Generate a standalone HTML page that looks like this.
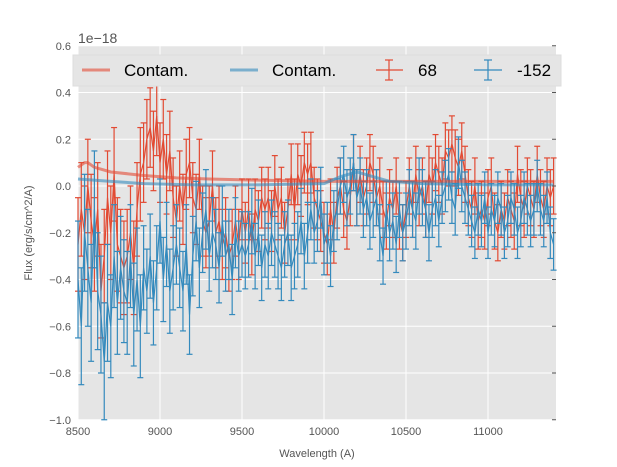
<!DOCTYPE html>
<html><head><meta charset="utf-8"><style>
body{margin:0;background:#fff;font-family:"Liberation Sans",sans-serif}
svg{display:block}
</style></head><body>
<svg id="chart" width="617" height="467">
<rect x="78" y="46" width="478" height="374" fill="#e5e5e5"/>
<g id="grid"></g>
<g id="series"></g>
<g id="axes"></g>
<text x="78" y="43" font-size="14" fill="#555">1e−18</text>
<text x="317" y="457" font-size="11" fill="#555" text-anchor="middle">Wavelength (A)</text>
<text transform="translate(32,233) rotate(-90)" font-size="11" fill="#555" text-anchor="middle">Flux (erg/s/cm^2/A)</text>
<g>
<rect x="73" y="55" width="488" height="31" fill="#e5e5e5" stroke="#ddd"/>
<line x1="82" y1="70" x2="110" y2="70" stroke="#E24A33" stroke-opacity="0.6" stroke-width="3"/>
<text x="124" y="76" font-size="17" fill="#000">Contam.</text>
<line x1="230" y1="70" x2="258" y2="70" stroke="#348ABD" stroke-opacity="0.6" stroke-width="3"/>
<text x="272" y="76" font-size="17" fill="#000">Contam.</text>
<g stroke="#E24A33" stroke-width="1.2"><line x1="376" y1="70" x2="403" y2="70"/><line x1="389" y1="60" x2="389" y2="80"/><line x1="385" y1="60" x2="393" y2="60"/><line x1="385" y1="80" x2="393" y2="80"/></g>
<text x="418" y="76" font-size="17" fill="#000">68</text>
<g stroke="#348ABD" stroke-width="1.2"><line x1="474" y1="70" x2="502" y2="70"/><line x1="488" y1="60" x2="488" y2="80"/><line x1="484" y1="60" x2="492" y2="60"/><line x1="484" y1="80" x2="492" y2="80"/></g>
<text x="517" y="76" font-size="17" fill="#000">-152</text>
</g>
</svg>
<script>
const xTicks=[8500,9000,9500,10000,10500,11000];
const yTicks=[0.6,0.4,0.2,0.0,-0.2,-0.4,-0.6,-0.8,-1.0];
const yTickLabels=["0.6","0.4","0.2","0.0","−0.2","−0.4","−0.6","−0.8","−1.0"];
const waveStart=8500, waveStep=20;
const fluxRed=[-0.25,-0.1,-0.2,0.0,-0.15,-0.25,-0.1,-0.45,-0.3,-0.05,-0.2,0.05,-0.25,-0.3,-0.35,-0.3,-0.2,-0.35,-0.1,0.05,0.1,0.2,0.25,0.15,0.3,0.1,0.2,0.05,0.15,-0.05,-0.15,0.0,-0.1,0.05,0.1,-0.05,-0.1,0.05,-0.15,-0.2,-0.15,0.0,-0.2,-0.15,-0.25,-0.2,-0.3,-0.25,-0.15,-0.25,-0.1,-0.2,-0.1,-0.25,-0.1,-0.15,-0.05,-0.1,-0.05,-0.15,0.0,-0.1,-0.05,-0.2,-0.1,0.05,-0.1,0.05,0.0,0.1,0.05,0.1,-0.05,-0.1,-0.15,-0.2,-0.25,-0.1,-0.2,-0.05,0.0,-0.1,-0.15,-0.05,0.1,-0.05,0.05,-0.05,0.0,0.1,0.05,-0.05,0.0,-0.1,-0.15,-0.05,-0.1,0.0,-0.15,-0.2,-0.1,0.0,-0.1,0.05,-0.05,0.0,-0.1,0.05,0.0,0.1,0.05,0.0,0.15,0.12,0.18,0.12,0.08,0.15,0.05,-0.05,-0.1,0.0,-0.15,-0.1,-0.15,-0.05,0.0,-0.15,-0.2,-0.1,-0.15,-0.05,-0.1,-0.15,0.05,-0.05,-0.1,0.0,-0.05,-0.1,0.05,-0.05,-0.1,0.0,-0.05,0.0];
const fluxBlue=[-0.4,-0.6,-0.2,-0.35,-0.5,-0.1,-0.45,-0.55,-0.75,-0.5,-0.6,-0.3,-0.5,-0.35,-0.45,-0.5,-0.3,-0.55,-0.4,-0.6,-0.35,-0.45,-0.3,-0.5,-0.35,-0.15,-0.4,-0.25,-0.45,-0.35,-0.25,-0.35,-0.45,-0.25,-0.55,-0.3,-0.15,-0.35,-0.2,-0.1,-0.3,-0.2,-0.25,-0.35,-0.15,-0.3,-0.25,-0.4,-0.2,-0.3,-0.25,-0.3,-0.25,-0.15,-0.3,-0.2,-0.35,-0.25,-0.3,-0.2,-0.25,-0.3,-0.35,-0.25,-0.2,-0.35,-0.3,-0.25,-0.15,-0.3,-0.2,-0.1,-0.2,-0.15,-0.05,-0.25,-0.2,-0.3,-0.15,-0.1,0.0,0.05,-0.05,0.0,0.1,-0.05,0.0,-0.1,-0.05,-0.15,-0.1,-0.05,-0.2,-0.3,-0.1,-0.2,-0.15,-0.25,-0.1,-0.2,-0.15,-0.05,-0.1,-0.15,0.0,-0.05,-0.1,-0.2,-0.1,-0.05,-0.15,-0.05,0.0,0.05,-0.05,-0.1,0.1,0.0,-0.05,-0.1,-0.15,-0.2,-0.1,-0.15,-0.05,-0.2,-0.1,-0.15,-0.05,-0.1,-0.2,-0.15,-0.05,-0.1,-0.2,-0.15,-0.05,-0.1,-0.15,-0.1,0.0,-0.1,-0.15,-0.05,-0.2,-0.25];
const errRedSeg=[0.2,0.2,0.17,0.15,0.15,0.13,0.13,0.13,0.12,0.12,0.12,0.12,0.12,0.12,0.12];
const errBlueSeg=[0.25,0.22,0.18,0.17,0.15,0.14,0.14,0.13,0.12,0.12,0.12,0.11,0.11,0.11,0.11];
const contamWave=[8500,8540,8560,8600,8700,8900,9100,9300,9600,10000,10500,11000,11400];
const contamRed=[0.08,0.1,0.1,0.08,0.06,0.045,0.035,0.03,0.025,0.02,0.02,0.02,0.02];
const contamWaveB=[8500,8700,8900,9200,9600,10000,10100,10200,10300,10400,10600,11000,11400];
const contamBlue=[0.03,0.02,0.01,0.005,0.005,0.01,0.04,0.06,0.04,0.02,0.01,0.005,0.005];
const X=w=>78+(w-8500)*82/500;
const Y=v=>186-v*233.75;
const NS="http://www.w3.org/2000/svg";
function mk(tag,attrs,parent){const e=document.createElementNS(NS,tag);for(const k in attrs)e.setAttribute(k,attrs[k]);parent.appendChild(e);return e;}
const grid=document.getElementById('grid'),axes=document.getElementById('axes'),ser=document.getElementById('series');
xTicks.forEach(t=>{
 const gl=mk('line',{x1:X(t),x2:X(t),y1:46,y2:420,stroke:'#fff','stroke-width':1},grid);
 
 
 const tx=mk('text',{x:X(t),y:435,'font-size':11,fill:'#555','text-anchor':'middle'},axes);
 tx.textContent=t;
 
 
});
yTicks.forEach((t,i)=>{
 const gl=mk('line',{x1:78,x2:556,y1:Y(t),y2:Y(t),stroke:'#fff','stroke-width':1},grid);
 
 
 mk('line',{x1:552,x2:556,y1:Y(t),y2:Y(t),stroke:'#555'},axes);
 const tx=mk('text',{x:71,y:Y(t)+4,'font-size':11,fill:'#555','text-anchor':'end'},axes);
 tx.textContent=yTickLabels[i];
 
 
});
function contam(ws,vs,color,name){
 const p=mk('polyline',{points:ws.map((w,i)=>X(w)+','+Y(vs[i])).join(' '),fill:'none',stroke:color,'stroke-opacity':0.6,'stroke-width':3},ser);
 
 
}
function series(vals,segs,color,name){
 const g=mk('g',{stroke:color,'stroke-width':1.2,fill:'none'},ser);
 
 
 const pts=[];
 vals.forEach((v,i)=>{
  const w=waveStart+i*waveStep;const x=X(w);const e=segs[Math.min(segs.length-1,Math.floor(i/10))];
  const y1=Y(v+e),y2=Y(v-e);
  mk('line',{x1:x,x2:x,y1:y1,y2:y2},g);
  mk('line',{x1:x-3,x2:x+3,y1:y1,y2:y1},g);
  mk('line',{x1:x-3,x2:x+3,y1:y2,y2:y2},g);
  pts.push(x+','+Y(v));
 });
 mk('polyline',{points:pts.join(' ')},g);
}
series(fluxRed,errRedSeg,'#E24A33','series-68');
series(fluxBlue,errBlueSeg,'#348ABD','series-152');
contam(contamWave,contamRed,'#E24A33','contam-line-68');
contam(contamWaveB,contamBlue,'#348ABD','contam-line-152');
</script>
</body></html>
